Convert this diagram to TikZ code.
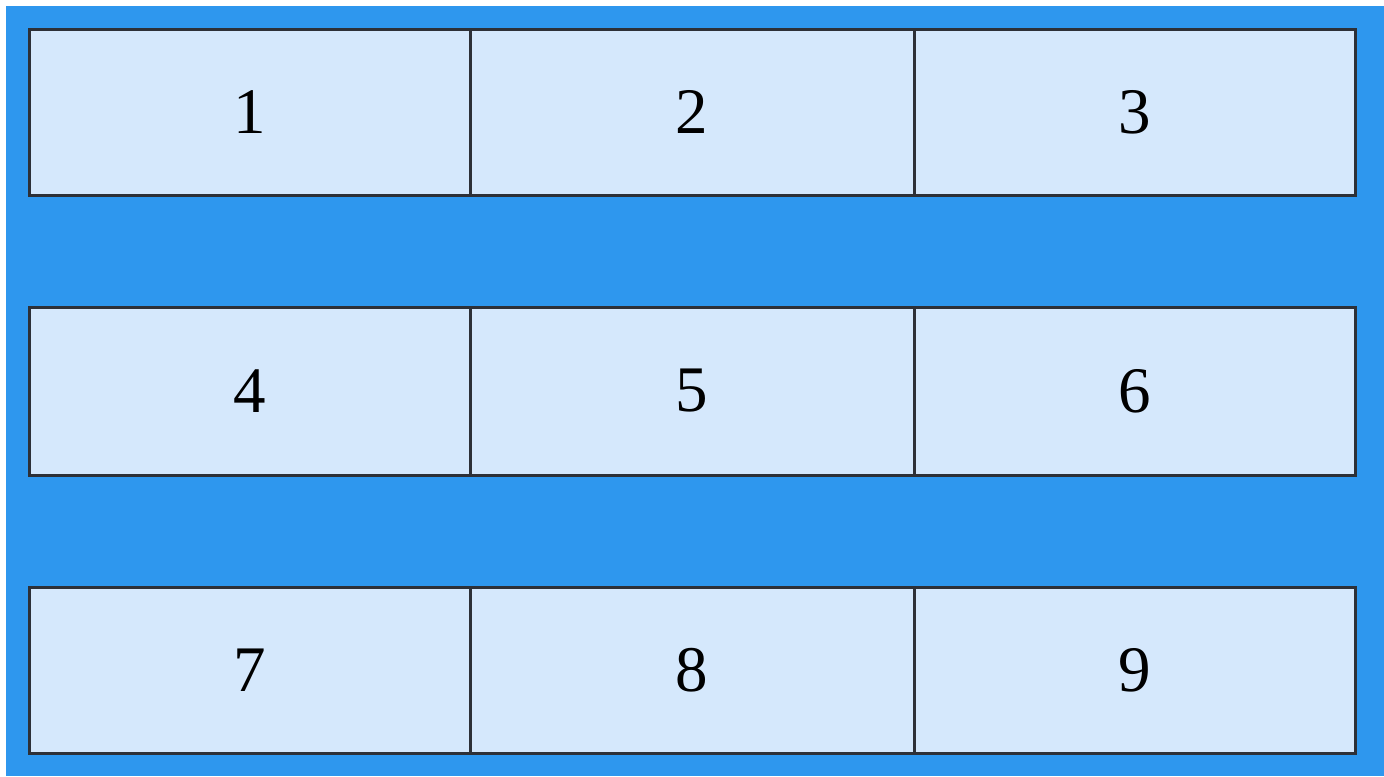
\documentclass[tikz,border=0pt]{standalone}
\usepackage{fontspec}
\setmainfont{Liberation Serif}
\definecolor{bgblue}{RGB}{46,151,238}
\definecolor{cellfill}{RGB}{213,232,252}
\definecolor{celledge}{RGB}{45,48,55}
\begin{document}
\begin{tikzpicture}[x=0.5pt,y=-0.5pt,
    cell/.style={draw=celledge,fill=cellfill,line width=1.5pt,outer sep=0pt,
      minimum height=83pt,font=\fontsize{32.5}{39}\selectfont}]
    \useasboundingbox (0,0) rectangle (1384,776);
    \fill[bgblue] (6,6) rectangle (1384,776);

    \node[cell,minimum width=220.5pt] (c1) at (249.5,112) {1};
    \node[cell,minimum width=222pt] (c2) at (692,112) {2};
    \node[cell,minimum width=220.5pt] (c3) at (1134.5,112) {3};

    \node[cell,minimum width=220.5pt,minimum height=84pt] (c4) at (249.5,391) {4};
    \node[cell,minimum width=222pt,minimum height=84pt] (c5) at (692,391) {5};
    \node[cell,minimum width=220.5pt,minimum height=84pt] (c6) at (1134.5,391) {6};

    \node[cell,minimum width=220.5pt] (c7) at (249.5,670) {7};
    \node[cell,minimum width=222pt] (c8) at (692,670) {8};
    \node[cell,minimum width=220.5pt] (c9) at (1134.5,670) {9};
  \end{tikzpicture}
\end{document}
